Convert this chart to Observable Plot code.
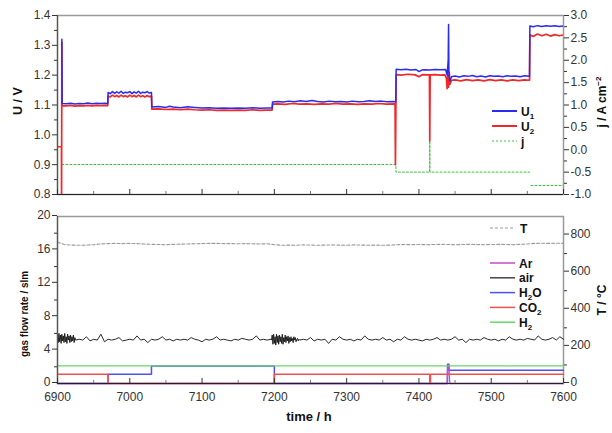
<!DOCTYPE html>
<html><head><meta charset="utf-8">
<script src="https://cdn.jsdelivr.net/npm/d3@7"></script>
<script src="https://cdn.jsdelivr.net/npm/@observablehq/plot@0.6"></script>
<style>
html,body{margin:0;padding:0;background:#fff;}
#wrap{position:relative;width:612px;height:433px;overflow:hidden;}
</style></head><body><div id="wrap"></div>
<script>
// ---------- ticks ----------
const xTicks = [6900,7000,7100,7200,7300,7400,7500,7600];
const xMinor = [6950,7050,7150,7250,7350,7450,7550];
const uTicks = [0.8,0.9,1.0,1.1,1.2,1.3,1.4];
const uMinor = [0.85,0.95,1.05,1.15,1.25,1.35];
const jTicks = [-1,-0.5,0,0.5,1,1.5,2,2.5,3];
const jMinor = [-0.75,-0.25,0.25,0.75,1.25,1.75,2.25,2.75];
const flowTicks = [0,4,8,12,16,20];
const flowMinor = [2,6,10,14,18];
const tTicks = [0,200,400,600,800];
const tMinor = [100,300,500,700];

// ---------- top panel data: [time h, value] ----------
const U1 = [[6906,1.32],[6906.5,1.105],[6912,1.104],[6918,1.106],[6924,1.103],[6930,1.105],[6936,1.104],[6942,1.107],[6948,1.104],[6954,1.106],[6960,1.105],[6966,1.106],[6969.5,1.105],
[6970,1.142],[6973,1.138],[6976,1.145],[6979,1.139],[6982,1.144],[6985,1.140],[6988,1.146],[6991,1.139],[6994,1.143],[6997,1.141],[7000,1.145],[7003,1.138],[7006,1.144],[7009,1.140],[7012,1.146],[7015,1.139],[7018,1.143],[7021,1.141],[7024,1.145],[7027,1.140],[7030,1.142],
[7030.5,1.093],[7040,1.095],[7050,1.092],[7055,1.096],[7060,1.093],[7070,1.091],[7080,1.094],[7090,1.092],[7100,1.090],[7110,1.091],[7120,1.089],[7130,1.090],[7140,1.089],[7150,1.090],[7160,1.089],[7170,1.091],[7180,1.089],[7190,1.090],[7197,1.090],
[7197.5,1.110],[7205,1.112],[7212,1.110],[7220,1.113],[7228,1.111],[7236,1.114],[7244,1.112],[7252,1.115],[7260,1.112],[7268,1.110],[7276,1.113],[7284,1.111],[7292,1.112],[7300,1.110],[7308,1.113],[7316,1.111],[7324,1.112],[7332,1.114],[7340,1.112],[7348,1.113],[7356,1.111],[7364,1.112],[7368,1.111],
[7368.5,1.220],[7375,1.218],[7382,1.220],[7389,1.217],[7396,1.219],[7400,1.212],[7404,1.217],[7408,1.218],[7415,1.217],[7422,1.219],[7430,1.218],[7436,1.219],
[7437,1.218],[7439,1.20],[7440.5,1.25],[7441,1.37],[7441.5,1.20],[7443,1.18],[7445,1.195],
[7450,1.197],[7456,1.194],[7462,1.198],[7468,1.196],[7474,1.199],[7480,1.195],[7486,1.197],[7492,1.194],[7498,1.198],[7504,1.196],[7510,1.197],[7516,1.195],[7522,1.198],[7528,1.196],[7534,1.197],[7540,1.195],[7546,1.198],[7553,1.196],
[7553.5,1.365],[7558,1.362],[7564,1.366],[7570,1.363],[7576,1.366],[7582,1.364],[7588,1.366],[7594,1.363],[7600,1.365]];

const U2 = [[6900,0.96],[6905.5,0.96],[6905.6,0.76],[6906,1.31],[6906.4,1.098],
[6912,1.097],[6918,1.099],[6924,1.096],[6930,1.098],[6936,1.097],[6942,1.099],[6948,1.097],[6954,1.099],[6960,1.098],[6966,1.099],[6969.5,1.098],
[6970,1.130],[6973,1.127],[6976,1.133],[6979,1.128],[6982,1.132],[6985,1.127],[6988,1.133],[6991,1.128],[6994,1.131],[6997,1.127],[7000,1.133],[7003,1.128],[7006,1.132],[7009,1.127],[7012,1.133],[7015,1.128],[7018,1.131],[7021,1.127],[7024,1.132],[7027,1.128],[7030,1.130],
[7030.5,1.086],[7040,1.087],[7050,1.085],[7060,1.086],[7070,1.084],[7080,1.086],[7090,1.084],[7100,1.083],[7110,1.084],[7120,1.082],[7130,1.083],[7140,1.082],[7150,1.083],[7160,1.082],[7170,1.084],[7180,1.082],[7190,1.083],[7197,1.083],
[7197.5,1.103],[7205,1.104],[7215,1.102],[7225,1.105],[7235,1.103],[7245,1.104],[7255,1.102],[7265,1.104],[7275,1.103],[7285,1.105],[7295,1.103],[7305,1.104],[7315,1.102],[7325,1.104],[7335,1.103],[7345,1.105],[7355,1.103],[7367,1.104],
[7367.5,0.90],[7368.5,1.202],[7375,1.200],[7385,1.203],[7395,1.201],[7400,1.195],[7405,1.202],[7414.5,1.201],[7415,0.98],[7415.5,1.201],[7422,1.202],[7430,1.200],[7436,1.201],
[7438,1.19],[7439,1.155],[7440,1.20],[7441,1.16],[7442,1.21],[7443,1.17],[7445,1.183],
[7450,1.184],[7458,1.181],[7466,1.185],[7474,1.182],[7482,1.184],[7490,1.181],[7498,1.185],[7506,1.182],[7514,1.184],[7522,1.181],[7530,1.184],[7538,1.182],[7546,1.184],[7553,1.183],
[7553.5,1.335],[7558,1.330],[7564,1.338],[7570,1.332],[7576,1.337],[7582,1.331],[7588,1.336],[7594,1.332],[7600,1.335]];

// current density j / A cm^-2 (null = gap)
const J = [[6906,-0.33],[7368,-0.33],[7368.3,-0.5],[7414.8,-0.5],[7415,0.2],[7415.2,-0.5],[7553,-0.5],[7554,null],[7555,-0.8],[7600,-0.8]];

// ---------- bottom panel data ----------
const H2  = [[6900,2.1],[7600,2.1]];
const CO2 = [[6900,1.1],[6970,0],[7200,1.1],[7415,0],[7416,1.1],[7600,1.1]];
const H2O = [[6900,0],[6970,1.1],[7030,2.1],[7200,0],[7439.5,2.3],[7441.5,1.6],[7600,1.6]];
const Ar  = [[6900,0],[7439,0],[7440,2.2],[7441.5,2.0],[7442.5,0.2],[7443,0],[7600,0]];

// air flow (slm): four sampled stretches
const airStart = [5.6,4.9,6.0,5.0,5.8,4.8,5.9,5.1,5.7,4.9,6.0,5.0,5.6,4.8,5.9,5.2,5.7,4.9,5.8,5.0,5.6,5.1,5.8,4.9,5.5,5.2]; // 6900.. every 1 h
const airMid = [5.3,5.2,5.6,5.1,5.3,5.2,5.9,5.0,5.3,5.2, 5.3,5.5,5.1,5.2,5.3,5.2,5.7,5.2,5.3,4.9, 5.3,5.2,5.3,5.6,5.2,5.3,5.1,5.3,5.2,5.3, 5.2,5.5,5.3,5.2,5.0,5.3,5.2,5.3,5.6,5.2, 5.3,5.2,5.1,5.3,5.2,5.4,5.3,5.2,5.3,5.7, 5.2,5.3,5.2,5.3]; // 6930.. every 5 h
const airDense = [5.2,5.8,4.7,5.9,4.8,5.6,4.6,5.9,4.9,5.7,4.7,5.8,5.0,5.6,4.8,5.9,4.7,5.5,5.0,5.8,4.9,5.6,5.1,5.7,4.8,5.5,5.0,5.6,5.1,5.4,4.9,5.6,5.2,5.5,5.0,5.3,5.4,5.1,5.3,5.2]; // 7196.. every 1 h
const airEnd = [5.3,5.2,5.5,5.1,5.3,5.2,5.3,4.8,5.3,5.2, 5.6,5.3,5.2,5.3,5.1,5.3,5.2,5.7,5.3,5.2, 5.3,5.2,5.5,5.2,5.3,5.0,5.3,5.2,5.6,5.3, 5.2,5.3,5.2,5.1,5.3,5.2,5.3,5.5,5.2,5.3, 5.2,5.3,5.6,5.2,5.3,4.9,5.3,5.2,5.3,5.2, 5.5,5.3,5.2,5.3,5.1,5.3,5.2,5.6,5.3,5.2, 5.3,5.2,5.4,5.3,5.2,5.7,5.3,5.2,5.3,5.5, 5.2,5.6,5.3]; // 7240.. every 5 h

// temperature °C every 10 h from 6900
const Tvals = [762,748,746,745,746,748,752,754,755,754,755,754,752,750,749,748,750,751,752,753,754,755,755,754,754,753,754,753,752,753,748,745,746,745,747,746,745,746,747,746,745,747,746,745,746,745,746,748,749,748,749,748,749,750,749,748,749,750,749,748,749,750,749,748,750,752,755,756,755,756,755];

// ---------- helpers ----------
const FONT = '"Liberation Sans", Arial, Helvetica, sans-serif';
const jToU = j => 0.8 + (j + 1) * 0.15;
const uToJ = u => (u - 0.8) / 0.15 - 1;
const tToF = t => t / 45;
const fToT = f => f * 45;
const fmt1 = v => (Math.round(v * 10) / 10 + 0).toFixed(1);
const seg = (vals, t0, dt) => vals.map((v, i) => [t0 + i * dt, v]);
const air = [...seg(airStart, 6900, 1), ...seg(airMid, 6930, 5), ...seg(airDense, 7196, 1), ...seg(airEnd, 7240, 5)];
const Tser = seg(Tvals, 6900, 10);
const X = d => d[0];
const Y = d => (d[1] == null ? NaN : d[1]);

const C = {u1:"#2b2bf0", u2:"#f02828", j:"#3cc43c", T:"#9a9a9a", Ar:"#c848c8", air:"#444444", H2O:"#5050f0", CO2:"#f05050", H2:"#66d866"};
const baseStyle = {background:"transparent", fontFamily: FONT, fontSize:"12px", color:"#333", overflow:"visible"};

// ---------- top panel ----------
const topH = 205, topMT = 15, topMB = 11;
const topInner = topH - topMT - topMB;
const topPlot = Plot.plot({
  width: 612, height: topH, marginTop: topMT, marginBottom: topMB, marginLeft: 57, marginRight: 49,
  style: baseStyle,
  x: {domain: [6900, 7600], axis: null},
  y: {domain: [0.8, 1.4], axis: null},
  marks: [
    Plot.frame({stroke: "#999", strokeWidth: 1.5}),
    Plot.line(J, {x: X, y: d => (d[1] == null ? NaN : jToU(d[1])), stroke: C.j, strokeWidth: 1, strokeDasharray: "2,2", clip: true}),
    Plot.line(U2, {x: X, y: Y, stroke: C.u2, strokeWidth: 1.7, clip: true}),
    Plot.line(U1, {x: X, y: Y, stroke: C.u1, strokeWidth: 1.5, clip: true}),
    Plot.ruleX([6900], {stroke: "#555", strokeWidth: 1.2}),
    Plot.ruleY([0.8], {stroke: "#222", strokeWidth: 1.2}),
    Plot.tickX(xTicks, {x: d => d, insetTop: topInner - 5, stroke: "#333"}),
    Plot.tickX(xMinor, {x: d => d, insetTop: topInner - 3, stroke: "#777"}),
    Plot.axisY(uTicks, {anchor: "left", tickSize: 5, tickPadding: 2, tickFormat: d => d.toFixed(1)}),
    Plot.axisY(uMinor, {anchor: "left", tickSize: 3, tickFormat: () => ""}),
    Plot.axisY(jTicks.map(jToU), {anchor: "right", tickSize: 5, tickPadding: 2, tickFormat: u => fmt1(uToJ(u))}),
    Plot.axisY(jMinor.map(jToU), {anchor: "right", tickSize: 3, tickFormat: () => ""})
  ]
});

// ---------- bottom panel ----------
const botTop = 200, botH = 233, botMT = 16, botMB = 50;
const botInner = botH - botMT - botMB;
const botPlot = Plot.plot({
  width: 612, height: botH, marginTop: botMT, marginBottom: botMB, marginLeft: 57, marginRight: 49,
  style: baseStyle,
  x: {domain: [6900, 7600], axis: null},
  y: {domain: [0, 20], axis: null},
  marks: [
    Plot.frame({stroke: "#999", strokeWidth: 1.5}),
    Plot.line(Tser, {x: X, y: d => tToF(d[1]), stroke: C.T, strokeWidth: 1.1, strokeDasharray: "3,2"}),
    Plot.line(air, {x: X, y: Y, stroke: "#111", strokeWidth: 0.9}),
    Plot.line(H2O, {x: X, y: Y, curve: "step-after", stroke: C.H2O, strokeWidth: 1.5}),
    Plot.line(CO2, {x: X, y: Y, curve: "step-after", stroke: C.CO2, strokeWidth: 1.5}),
    Plot.line(Ar, {x: X, y: Y, stroke: C.Ar, strokeWidth: 1.3}),
    Plot.line(H2, {x: X, y: Y, curve: "step-after", stroke: C.H2, strokeWidth: 1.3}),
    Plot.ruleX([6900], {stroke: "#555", strokeWidth: 1.2}),
    Plot.ruleY([0], {stroke: "#222", strokeWidth: 1.2}),
    Plot.tickX(xTicks, {x: d => d, insetTop: botInner - 5, stroke: "#333"}),
    Plot.tickX(xMinor, {x: d => d, insetTop: botInner - 3, stroke: "#777"}),
    Plot.axisX(xTicks, {anchor: "bottom", tickSize: 0, tickPadding: 9, tickFormat: d => String(d)}),
    Plot.axisY(flowTicks, {anchor: "left", tickSize: 5, tickPadding: 2, dy: -1, tickFormat: d => String(d)}),
    Plot.axisY(flowMinor, {anchor: "left", tickSize: 3, tickFormat: () => ""}),
    Plot.axisY(tTicks.map(tToF), {anchor: "right", tickSize: 5, tickPadding: 2, dy: -1, tickFormat: f => String(Math.round(fToT(f)))}),
    Plot.axisY(tMinor.map(tToF), {anchor: "right", tickSize: 3, tickFormat: () => ""})
  ]
});

const wrap = document.getElementById("wrap");
for (const [el, t] of [[topPlot, 0], [botPlot, botTop]]) {
  el.style.position = "absolute"; el.style.left = "0px"; el.style.top = t + "px";
  wrap.appendChild(el);
}

// ---------- titles & legends overlay ----------
const topLegend = [
  {label: "U", sub: "1", color: C.u1, width: 2, dash: null},
  {label: "U", sub: "2", color: C.u2, width: 2, dash: null},
  {label: "j", sub: "", color: C.j, width: 1.2, dash: "2,2"}
];
const botLegend = [
  {label: "Ar", sub: "", tail: "", color: C.Ar, width: 1.5},
  {label: "air", sub: "", tail: "", color: C.air, width: 1.5},
  {label: "H", sub: "2", tail: "O", color: C.H2O, width: 1.5},
  {label: "CO", sub: "2", tail: "", color: C.CO2, width: 1.5},
  {label: "H", sub: "2", tail: "", color: C.H2, width: 1.5}
];
let s = `<svg width="612" height="433" style="position:absolute;left:0;top:0" font-family='${FONT}' fill="#111">`;
s += `<text transform="translate(22,101) rotate(-90)" text-anchor="middle" font-weight="bold" font-size="12.5">U  /  V</text>`;
s += `<text transform="translate(606,102) rotate(-90)" text-anchor="middle" font-weight="bold" font-size="12">j / A cm<tspan font-size="8" dy="-5">−2</tspan></text>`;
s += `<text transform="translate(28,314) rotate(-90)" text-anchor="middle" font-weight="bold" font-size="11" textLength="86" lengthAdjust="spacingAndGlyphs">gas flow rate  / slm</text>`;
s += `<text transform="translate(606,300) rotate(-90)" text-anchor="middle" font-weight="bold" font-size="12">T / °C</text>`;
s += `<text x="309" y="421" text-anchor="middle" font-weight="bold" font-size="13">time  / h</text>`;
topLegend.forEach((d, i) => {
  const y = 111 + i * 15;
  s += `<line x1="492" x2="517" y1="${y}" y2="${y}" stroke="${d.color}" stroke-width="${d.width}" ${d.dash ? `stroke-dasharray="${d.dash}"` : ""}/>`;
  s += `<text x="521" y="${y + 4.5}" font-weight="bold" font-size="12">${d.label}${d.sub ? `<tspan font-size="8" dy="3">${d.sub}</tspan>` : ""}</text>`;
});
s += `<line x1="490" x2="515" y1="228" y2="228" stroke="${C.T}" stroke-width="1.2" stroke-dasharray="3,2"/>`;
s += `<text x="520" y="232.5" font-weight="bold" font-size="12">T</text>`;
botLegend.forEach((d, i) => {
  const y = 263 + i * 14.8;
  s += `<line x1="490" x2="515" y1="${y}" y2="${y}" stroke="${d.color}" stroke-width="${d.width}"/>`;
  s += `<text x="519" y="${y + 4.5}" font-weight="bold" font-size="12">${d.label}${d.sub ? `<tspan font-size="8" dy="3">${d.sub}</tspan>` : ""}${d.tail ? `<tspan dy="-3">${d.tail}</tspan>` : ""}</text>`;
});
s += `</svg>`;
wrap.insertAdjacentHTML("beforeend", s);
</script></body></html>
